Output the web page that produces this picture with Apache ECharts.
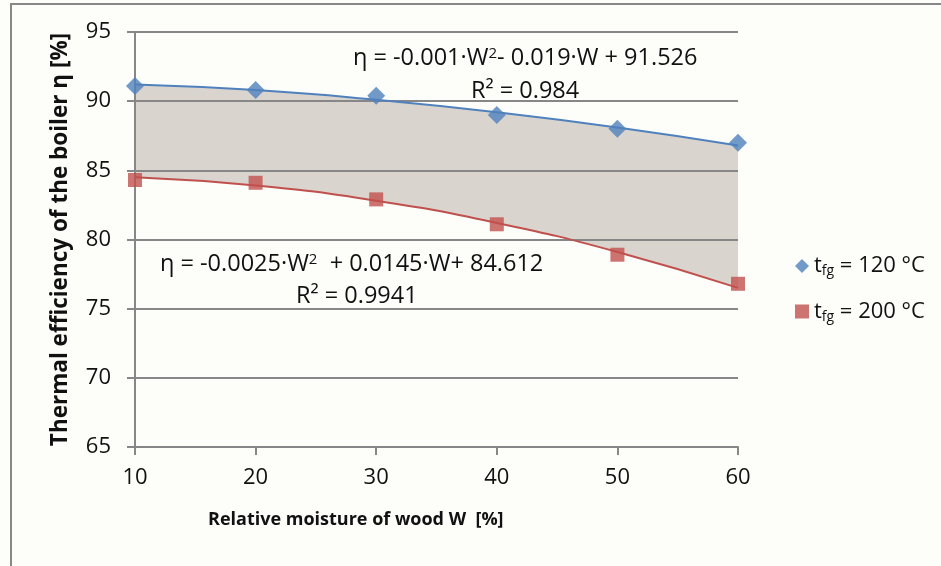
<!DOCTYPE html>
<html>
<head>
<meta charset="utf-8">
<script src="https://cdn.jsdelivr.net/npm/echarts@6/dist/echarts.min.js"></script>
<style>
html,body{margin:0;padding:0;background:#fdfdfa;}
#c{width:941px;height:566px;}
</style>
</head>
<body>
<div id="c"></div>
<script>
// Data
const moisture = [10, 20, 30, 40, 50, 60];
const eff120 = [91.1, 90.8, 90.4, 89.0, 88.0, 87.0];
const eff200 = [84.3, 84.1, 82.9, 81.1, 78.9, 76.8];
// trend-line readings at the same moistures
const trend120 = [91.2, 90.8, 90.1, 89.2, 88.1, 86.8];
const trend200 = [84.5, 83.9, 82.8, 81.2, 79.1, 76.5];
const yTicks = [65, 70, 75, 80, 85, 90, 95];

const FONT = 'Open Sans';
const FS = 22;
const EQ = 23.5;
const gridCol = '#878787';
const blue = '#4F81BD', red = '#C0504D', fill = '#d9d4ce', bg = '#fdfdfa';

const pair = a => moisture.map((x, i) => [x, a[i]]);

const chart = echarts.init(document.getElementById('c'));
const subRich = {
  t: {fontFamily: FONT, fontSize: FS, color: '#111'},
  s: {fontFamily: FONT, fontSize: 14, color: '#111', padding: [11, 0, 0, 0]}
};
const eqRich = {
  t: {fontFamily: FONT, fontSize: EQ, fill: '#111'},
  p: {fontFamily: FONT, fontSize: 15, fill: '#111', padding: [0, 0, 10, 0]}
};
chart.setOption({
  backgroundColor: bg,
  animation: false,
  grid: {left: 135, right: 203, top: 32, bottom: 119},
  xAxis: {
    type: 'value', min: 10, max: 60, interval: 10, z: 2,
    axisLine: {lineStyle: {color: gridCol, width: 2}},
    axisTick: {show: true, length: 8, lineStyle: {color: gridCol, width: 2}},
    axisLabel: {fontFamily: FONT, fontSize: FS, color: '#111', margin: 20},
    splitLine: {show: false}
  },
  yAxis: {
    type: 'value', min: yTicks[0], max: yTicks[yTicks.length - 1], interval: 5,
    z: 2,
    name: 'Thermal efficiency of the boiler η [%]', nameLocation: 'middle', nameGap: 63,
    nameTextStyle: {fontFamily: FONT, fontSize: 22.5, fontWeight: 'bold', color: '#111'},
    axisLine: {show: true, lineStyle: {color: gridCol, width: 2}},
    axisTick: {show: true, length: 8, lineStyle: {color: gridCol, width: 2}},
    axisLabel: {fontFamily: FONT, fontSize: FS, color: '#111', margin: 24},
    splitLine: {show: true, lineStyle: {color: gridCol, width: 2}}
  },
  legend: {
    orient: 'vertical', left: 790, top: 250, itemGap: 22,
    itemWidth: 14, itemHeight: 14,
    data: [{name: 't120', icon: 'diamond'}, {name: 't200', icon: 'rect'}],
    formatter: n => n === 't120' ? '{t|t}{s|fg}{t| = 120 °C}' : '{t|t}{s|fg}{t| = 200 °C}',
    textStyle: {rich: subRich}
  },
  series: [
    // shaded band: area under upper trend, then lower trend area painted with background
    {type: 'line', data: pair(trend120), smooth: true, symbol: 'none',
     lineStyle: {width: 0}, areaStyle: {color: fill, opacity: 1, origin: 'start'}, z: 0, silent: true},
    {type: 'line', data: pair(trend200), smooth: true, symbol: 'none',
     lineStyle: {width: 0}, areaStyle: {color: bg, opacity: 1, origin: 'start'}, z: 1, silent: true},
    {type: 'line', data: pair(trend120), smooth: true, symbol: 'none',
     lineStyle: {color: blue, width: 2}, z: 3},
    {type: 'line', data: pair(trend200), smooth: true, symbol: 'none',
     lineStyle: {color: red, width: 2}, z: 3},
    {name: 't120', type: 'scatter', data: pair(eff120), symbol: 'diamond', symbolSize: 18,
     itemStyle: {color: blue}, z: 4},
    {name: 't200', type: 'scatter', data: pair(eff200), symbol: 'rect', symbolSize: 14,
     itemStyle: {color: red}, z: 4}
  ],
  graphic: [
    {type: 'rect', shape: {x: 10, y: 3, width: 2, height: 563}, style: {fill: '#888'}},
    {type: 'rect', shape: {x: 10, y: 3, width: 931, height: 2}, style: {fill: '#888'}},
    {type: 'text', left: 208, top: 511, z: 10,
     style: {text: 'Relative moisture of wood W  [%]', fontFamily: FONT, fontSize: 18, fontWeight: 'bold', fill: '#111'}},
    {type: 'text', left: 353, top: 46, z: 10,
     style: {text: '{t|η = -0.001·W}{p|2}{t|- 0.019·W + 91.526}', rich: eqRich}},
    {type: 'text', left: 471, top: 79, z: 10,
     style: {text: 'R² = 0.984', fontFamily: FONT, fontSize: EQ, fill: '#111'}},
    {type: 'text', left: 160, top: 252, z: 10,
     style: {text: '{t|η = -0.0025·W}{p|2}{t|  + 0.0145·W+ 84.612}', rich: eqRich}},
    {type: 'text', left: 296, top: 284, z: 10,
     style: {text: 'R² = 0.9941', fontFamily: FONT, fontSize: EQ, fill: '#111'}}
  ]
});
</script>
</body>
</html>
